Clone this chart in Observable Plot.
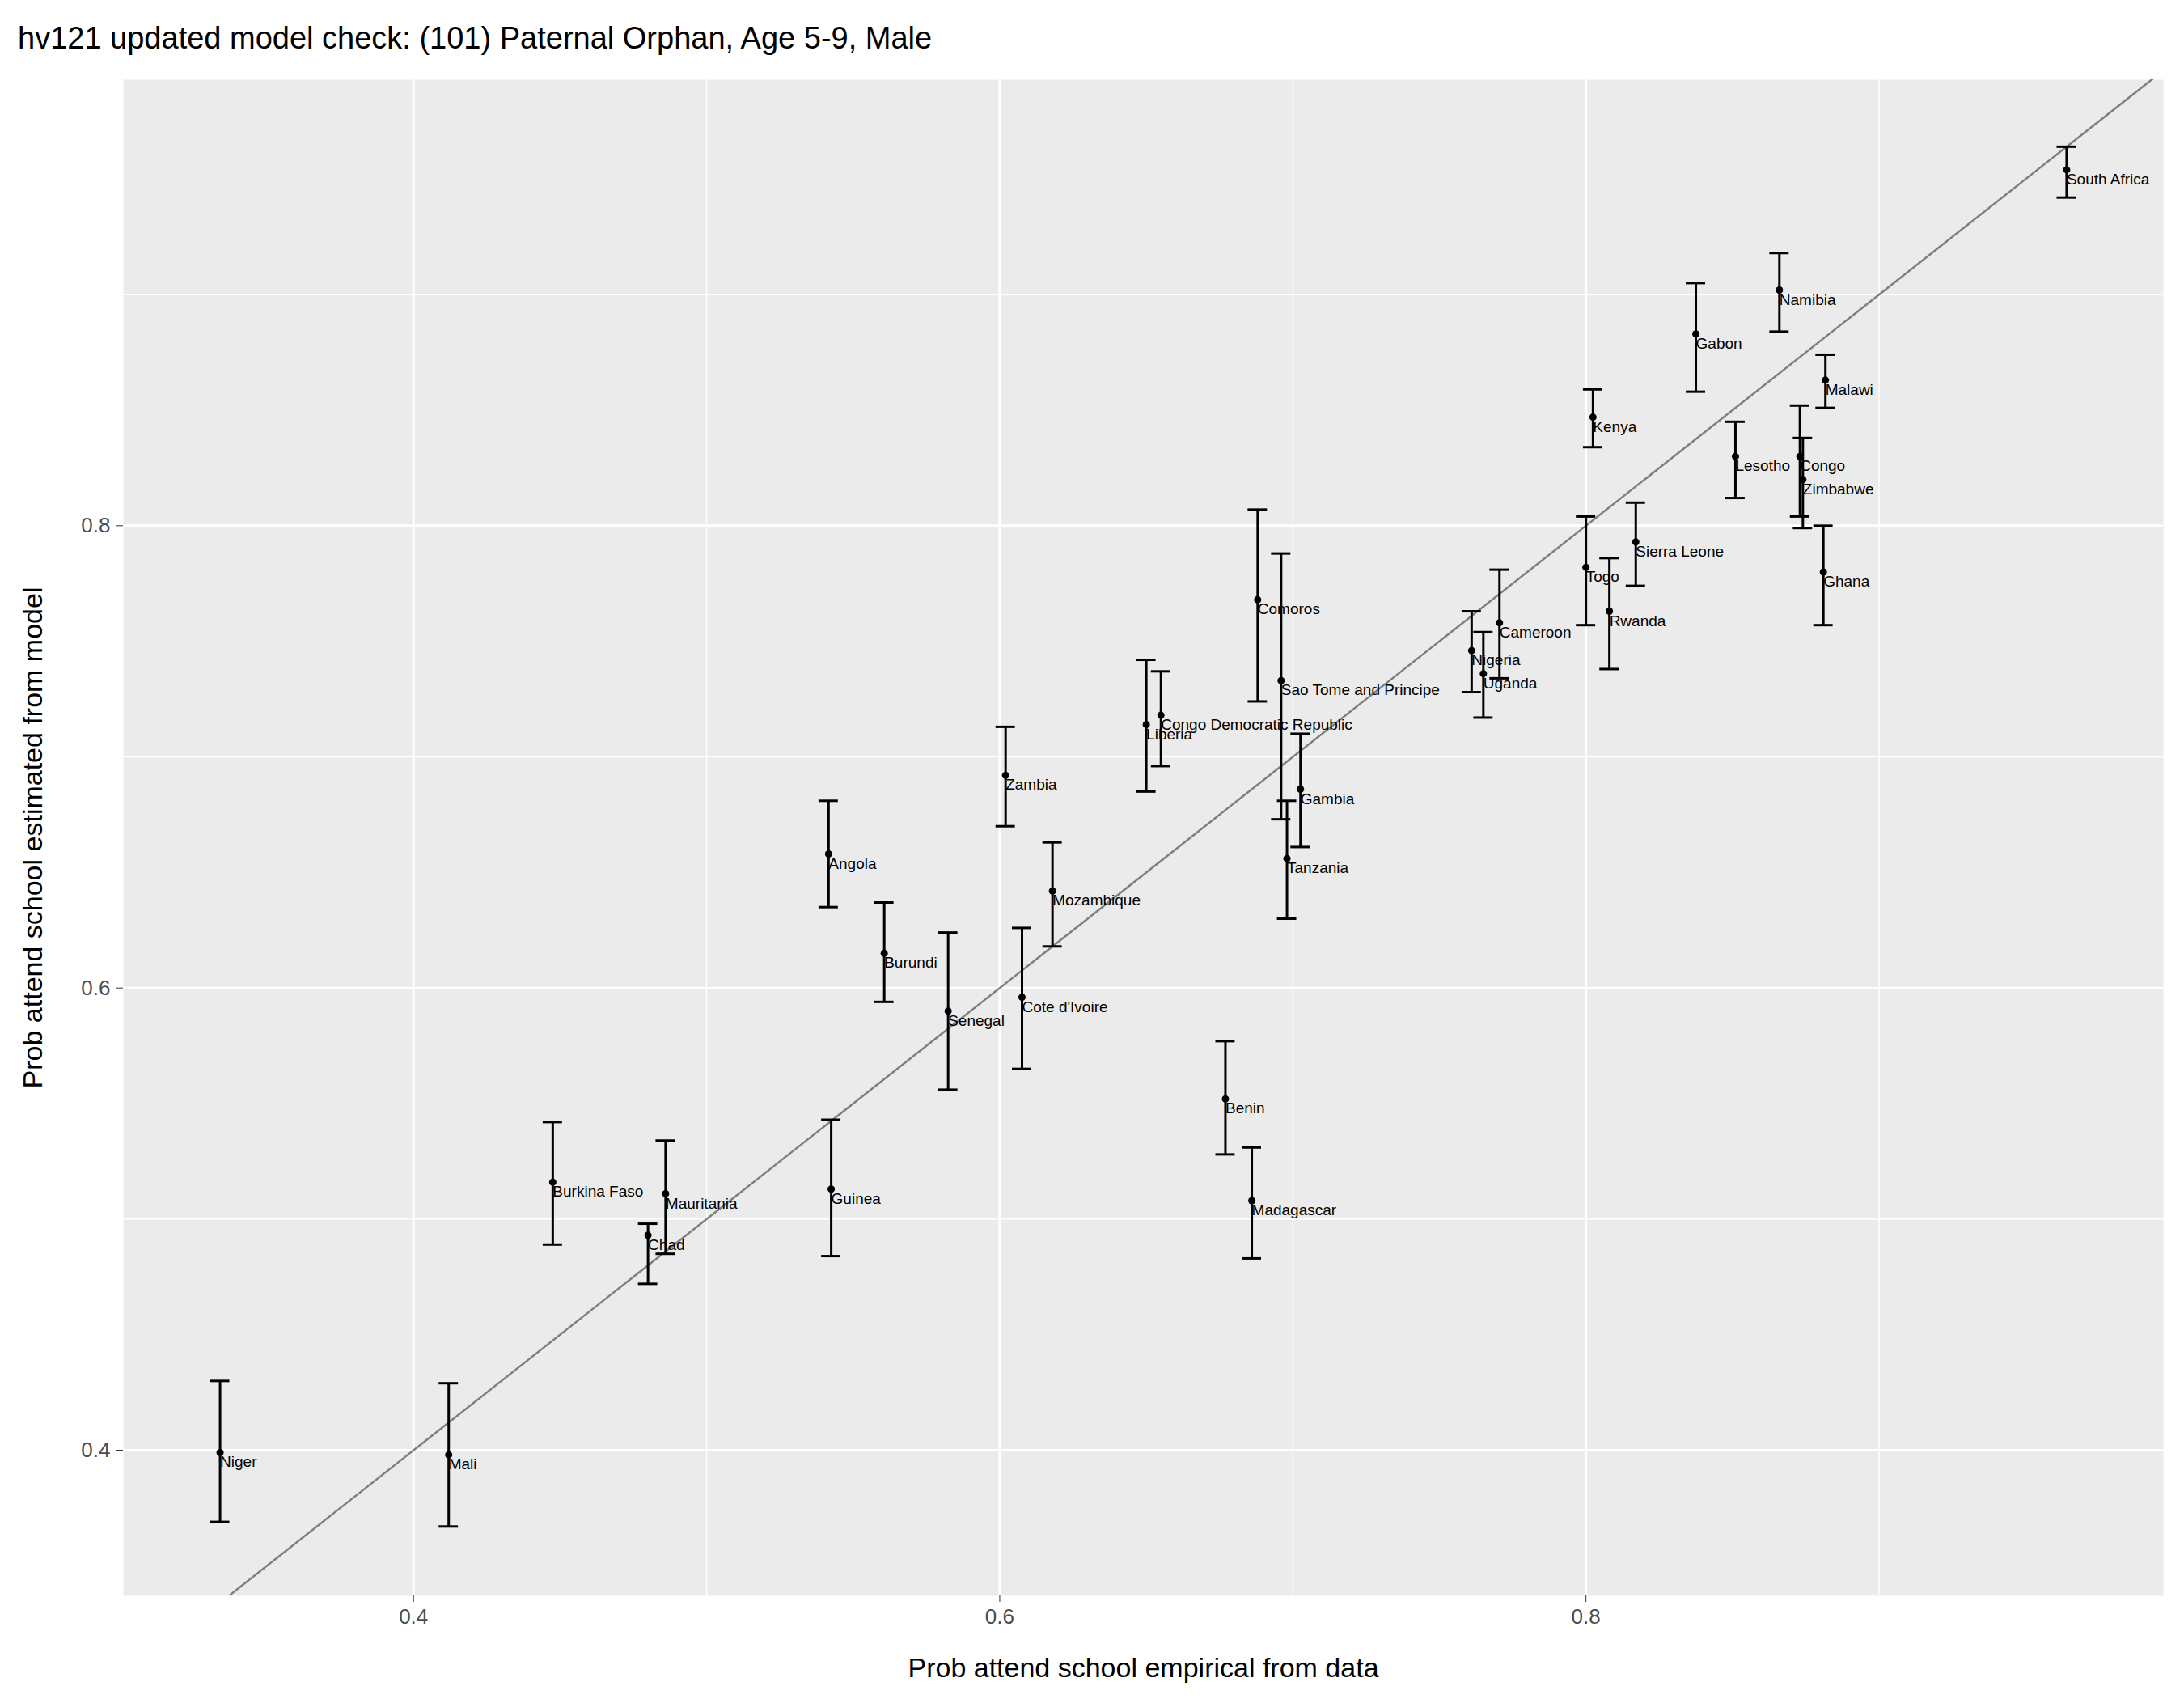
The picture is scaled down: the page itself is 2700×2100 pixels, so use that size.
<!DOCTYPE html>
<html><head><meta charset="utf-8">
<script src="https://cdn.jsdelivr.net/npm/d3@7"></script>
<script src="https://cdn.jsdelivr.net/npm/@observablehq/plot@0.6"></script>
<style>body{margin:0;background:#fff;font-family:"Liberation Sans",Arial,sans-serif}
#title{font-size:38px;padding:26px 0 0 22px;height:64px;color:#000}</style>
</head><body>
<div id="title">hv121 updated model check: (101) Paternal Orphan, Age 5-9, Male</div>
<div id="chart"></div>
<script>
const countries=["Niger","Mali","Burkina Faso","Chad","Mauritania","Guinea","Angola","Burundi","Senegal","Zambia","Cote d'Ivoire","Mozambique","Liberia","Congo Democratic Republic","Benin","Madagascar","Comoros","Sao Tome and Principe","Tanzania","Gambia","Nigeria","Uganda","Cameroon","Togo","Rwanda","Sierra Leone","Kenya","Gabon","Lesotho","Namibia","Malawi","Congo","Zimbabwe","Ghana","South Africa"];
const empirical=[0.334,0.412,0.4475,0.480,0.486,0.5425,0.5416,0.5606,0.5824,0.602,0.6076,0.618,0.650,0.655,0.677,0.686,0.688,0.696,0.698,0.7026,0.761,0.765,0.7705,0.800,0.808,0.817,0.8024,0.8375,0.851,0.866,0.8817,0.873,0.874,0.881,0.964];
const modelEst=[0.399,0.398,0.516,0.493,0.511,0.513,0.658,0.615,0.590,0.692,0.596,0.642,0.714,0.718,0.552,0.508,0.768,0.733,0.656,0.686,0.746,0.736,0.758,0.782,0.763,0.793,0.847,0.883,0.830,0.902,0.863,0.830,0.820,0.780,0.954];
const upper=[0.430,0.429,0.542,0.498,0.534,0.543,0.681,0.637,0.624,0.713,0.626,0.663,0.742,0.737,0.577,0.531,0.807,0.788,0.681,0.710,0.763,0.754,0.781,0.804,0.786,0.810,0.859,0.905,0.845,0.918,0.874,0.852,0.838,0.800,0.964];
const lower=[0.369,0.367,0.489,0.472,0.485,0.484,0.635,0.594,0.556,0.670,0.565,0.618,0.685,0.696,0.528,0.483,0.724,0.673,0.630,0.661,0.728,0.717,0.734,0.757,0.738,0.774,0.834,0.858,0.812,0.884,0.851,0.804,0.799,0.757,0.942];
const xTicks=[0.4,0.6,0.8], yTicks=[0.4,0.6,0.8];
const xMinor=[0.3,0.5,0.7,0.9], yMinor=[0.5,0.7,0.9];
const data=countries.map((c,i)=>({c,x:empirical[i],y:modelEst[i],lo:lower[i],hi:upper[i]}));
const cap=0.0033;
const chart=Plot.plot({
  width:2700,height:2010,marginLeft:152,marginRight:26,marginTop:8,marginBottom:128,
  style:{fontFamily:"Liberation Sans, Arial, sans-serif",fontSize:"26px",color:"#4d4d4d",background:"#fff"},
  x:{domain:[0.301,0.997],axis:null},
  y:{domain:[0.337,0.993],axis:null},
  marks:[
    Plot.frame({fill:"#EBEBEB",stroke:null}),
    Plot.gridX(xMinor,{stroke:"#fff",strokeOpacity:1,strokeWidth:1.5}),
    Plot.gridY(yMinor,{stroke:"#fff",strokeOpacity:1,strokeWidth:1.5}),
    Plot.gridX(xTicks,{stroke:"#fff",strokeOpacity:1,strokeWidth:3}),
    Plot.gridY(yTicks,{stroke:"#fff",strokeOpacity:1,strokeWidth:3}),
    Plot.axisX(xTicks,{tickFormat:d3.format(".1f"),fontSize:26,fill:"#4d4d4d",stroke:"#333",label:"Prob attend school empirical from data",labelAnchor:"center",labelArrow:"none",labelOffset:100,tickSize:8,tickPadding:8}),
    Plot.axisY(yTicks,{tickFormat:d3.format(".1f"),fontSize:26,fill:"#4d4d4d",stroke:"#333",label:"Prob attend school estimated from model",labelAnchor:"center",labelArrow:"none",labelOffset:125,tickSize:8,tickPadding:8}),
    Plot.line([[0.2,0.2],[1.1,1.1]],{stroke:"#7f7f7f",strokeWidth:2.5,clip:true}),
    Plot.ruleX(data,{x:"x",y1:"lo",y2:"hi",stroke:"#000",strokeWidth:3}),
    Plot.ruleY(data,{y:"hi",x1:d=>d.x-cap,x2:d=>d.x+cap,stroke:"#000",strokeWidth:3}),
    Plot.ruleY(data,{y:"lo",x1:d=>d.x-cap,x2:d=>d.x+cap,stroke:"#000",strokeWidth:3}),
    Plot.dot(data,{x:"x",y:"y",r:4.5,fill:"#000"}),
    Plot.text(data,{x:"x",y:"y",text:"c",textAnchor:"start",dx:0,dy:12,fontSize:19,fill:"#000"})
  ]
});
chart.querySelectorAll("[aria-label='x-axis label'] text, [aria-label='y-axis label'] text, [aria-label='x-axis label'], [aria-label='y-axis label']").forEach(t=>{t.style.fontSize="34px";t.setAttribute("fill","#000");});
document.getElementById("chart").append(chart);
</script>
</body></html>
